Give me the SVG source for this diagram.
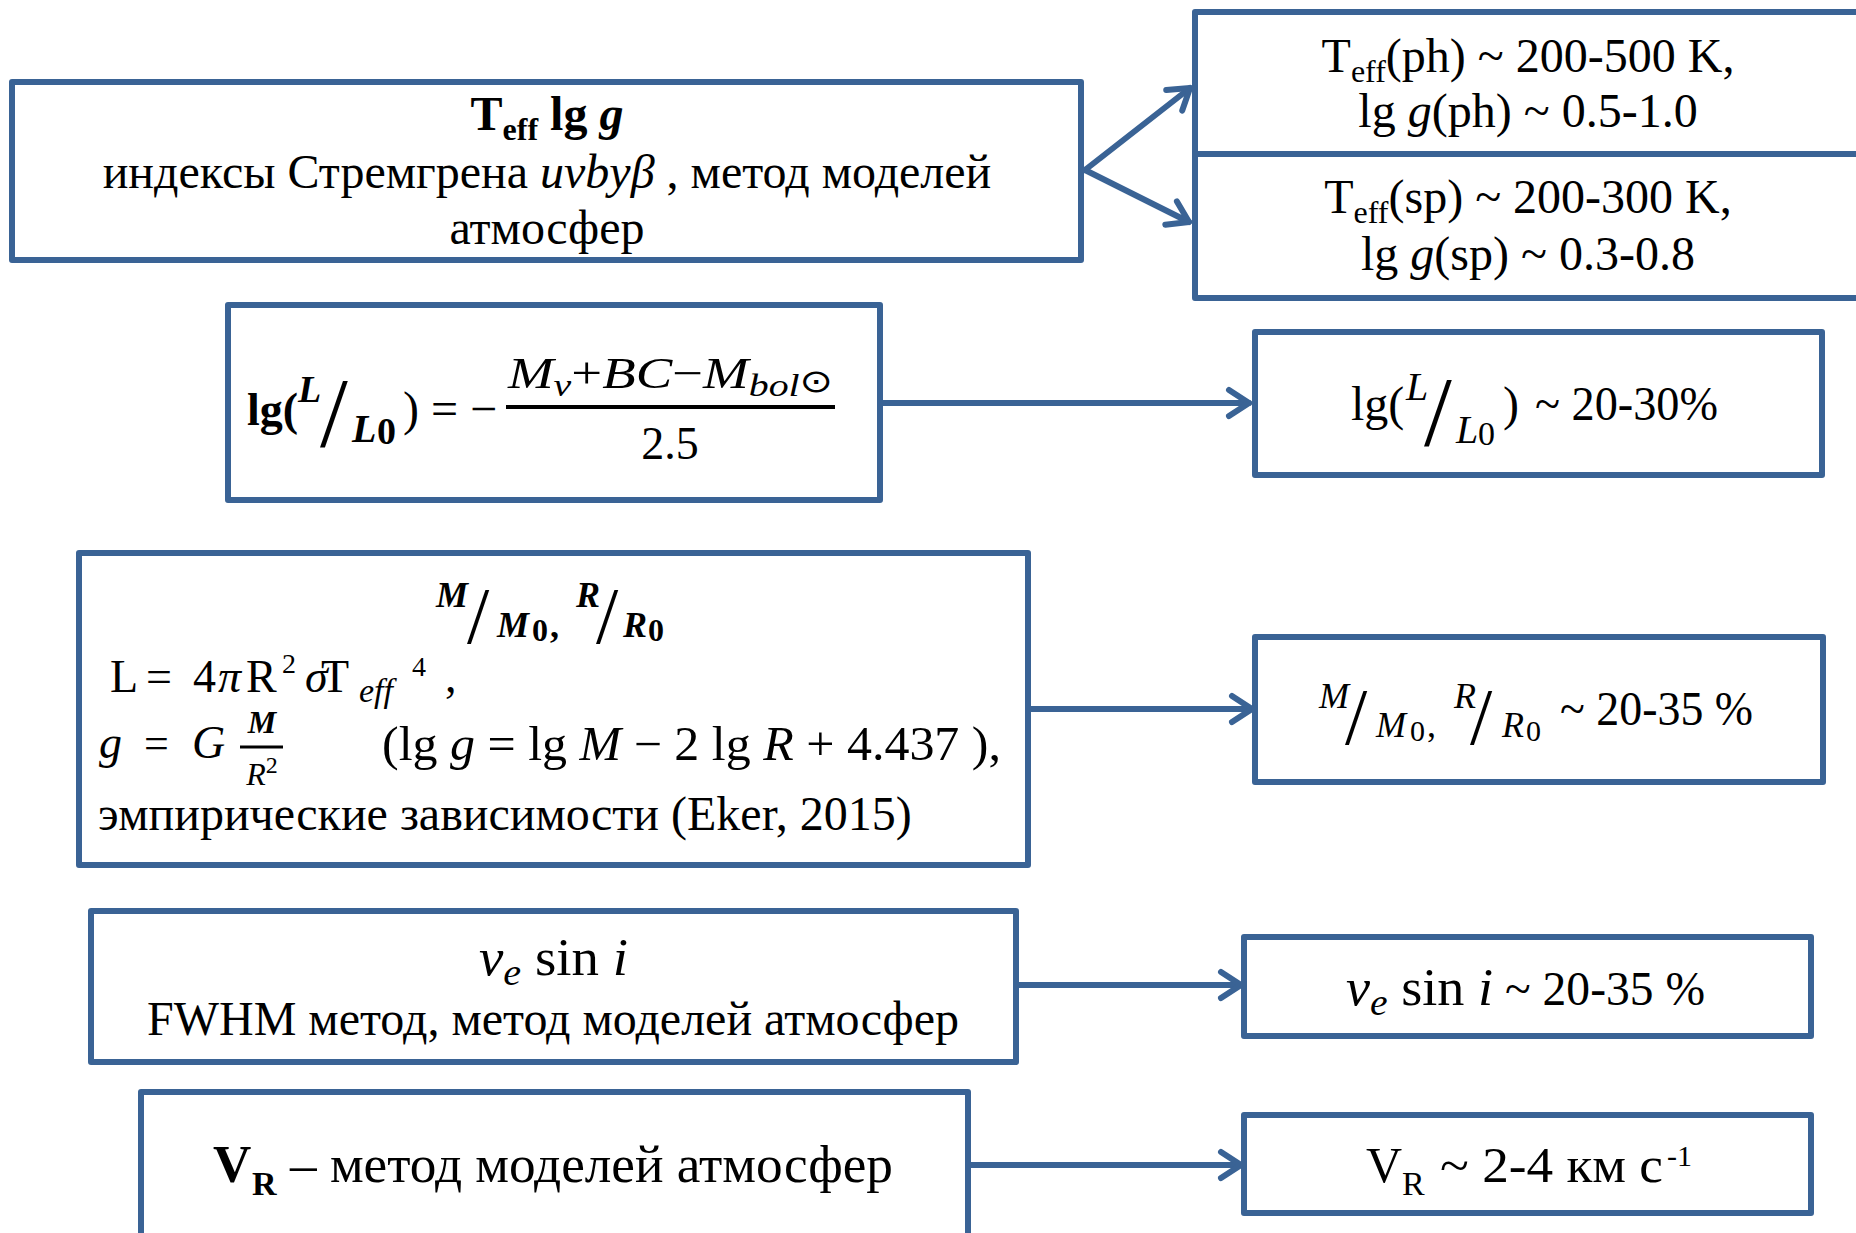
<svg xmlns="http://www.w3.org/2000/svg" width="1856" height="1233" viewBox="0 0 1856 1233">
<defs>
<style>
.box{fill:#ffffff;stroke:#3A6395;stroke-width:6;stroke-linejoin:round}
.conn{fill:none;stroke:#3A6395;stroke-width:6;stroke-linecap:round}
.t{font-family:"Liberation Serif","Times New Roman",serif;font-size:48px;fill:#000}
.m{font-family:"Liberation Serif","DejaVu Serif",serif;fill:#000}
.b{font-weight:bold}
.i{font-style:italic}
</style>
<marker id="arr" markerUnits="userSpaceOnUse" markerWidth="40" markerHeight="40" viewBox="-30 -20 40 40" refX="0" refY="0" orient="auto">
<path d="M-20,-13 L0,0 L-20,13" fill="none" stroke="#3A6395" stroke-width="6" stroke-linecap="round" stroke-linejoin="round"/>
</marker>
</defs>
<rect width="1856" height="1233" fill="#ffffff"/>

<g id="connectors">
<line class="conn" x1="1085" y1="170" x2="1190" y2="88" marker-end="url(#arr)"/>
<line class="conn" x1="1085" y1="170" x2="1189" y2="222" marker-end="url(#arr)"/>
<line class="conn" x1="880" y1="403" x2="1249" y2="403" marker-end="url(#arr)"/>
<line class="conn" x1="1028" y1="709" x2="1252" y2="709" marker-end="url(#arr)"/>
<line class="conn" x1="1016" y1="985" x2="1241" y2="985" marker-end="url(#arr)"/>
<line class="conn" x1="968" y1="1165" x2="1241" y2="1165" marker-end="url(#arr)"/>
</g>

<g id="node-teff-method">
<rect class="box" x="12" y="82" width="1069" height="178"/>
<text class="t b" x="547" y="130" text-anchor="middle">T<tspan font-size="32" dy="10">eff</tspan><tspan dy="-10"> lg </tspan><tspan class="i">g</tspan></text>
<text class="t" x="547" y="188" text-anchor="middle">индексы Стремгрена <tspan class="i">uvbyβ</tspan> , метод моделей</text>
<text class="t" x="547" y="244" text-anchor="middle">атмосфер</text>
</g>

<g id="node-teff-ph">
<rect class="box" x="1195" y="12" width="670" height="142"/>
<text class="t" x="1528" y="72" text-anchor="middle">T<tspan font-size="32" dy="10">eff</tspan><tspan dy="-10">(ph) ~ 200-500 K,</tspan></text>
<text class="t" x="1528" y="127" text-anchor="middle">lg <tspan class="i">g</tspan>(ph) ~ 0.5-1.0</text>
</g>

<g id="node-teff-sp">
<rect class="box" x="1195" y="154" width="670" height="144"/>
<text class="t" x="1528" y="213" text-anchor="middle">T<tspan font-size="32" dy="10">eff</tspan><tspan dy="-10">(sp) ~ 200-300 K,</tspan></text>
<text class="t" x="1528" y="270" text-anchor="middle">lg <tspan class="i">g</tspan>(sp) ~ 0.3-0.8</text>
</g>

<g id="node-lum-formula">
<rect class="box" x="228" y="305" width="652" height="195"/>
<text class="t b" x="247" y="425" style="font-size:46px">lg(</text>
<text class="m b i" x="298" y="402" font-size="38">L</text>
<text class="m" x="320" y="446" font-size="100">/</text>
<text class="m b i" x="352" y="442" font-size="40">L</text>
<text class="m b" x="377" y="444" font-size="38">0</text>
<text class="t" x="403" y="425">) = −</text>
<text class="m i" x="508" y="388" font-size="44" textLength="325" lengthAdjust="spacingAndGlyphs">M<tspan font-size="32" dy="8">v</tspan><tspan font-style="normal" dy="-8">+</tspan>BC<tspan font-style="normal">−</tspan>M<tspan font-size="32" dy="8">bol</tspan><tspan font-style="normal" font-size="32" font-family="DejaVu Sans" dy="-4">⊙</tspan></text>
<line x1="506" y1="407" x2="835" y2="407" stroke="#000" stroke-width="4"/>
<text class="m" x="670" y="459" font-size="46" text-anchor="middle">2.5</text>
</g>

<g id="node-lum-error">
<rect class="box" x="1255" y="332" width="567" height="143"/>
<text class="t" x="1351" y="420">lg(</text>
<text class="m i" x="1406" y="400" font-size="40">L</text>
<text class="m" x="1424" y="445" font-size="100">/</text>
<text class="m i" x="1456" y="443" font-size="40">L</text>
<text class="m" x="1478" y="445" font-size="34">0</text>
<text class="t" x="1503" y="420">)</text>
<text class="t" x="1535" y="420" textLength="183" lengthAdjust="spacingAndGlyphs">~ 20-30%</text>
</g>

<g id="node-mass-radius">
<rect class="box" x="79" y="553" width="949" height="312"/>
<text class="m b i" x="436" y="607" font-size="36">M</text>
<text class="m" x="467" y="643" font-size="80">/</text>
<text class="m b i" x="497" y="637" font-size="36">M</text>
<text class="m b" x="532" y="641" font-size="32">0</text>
<text class="m b" x="550" y="637" font-size="36">,</text>
<text class="m b i" x="576" y="607" font-size="36">R</text>
<text class="m" x="596" y="643" font-size="80">/</text>
<text class="m b i" x="623" y="637" font-size="36">R</text>
<text class="m b" x="648" y="641" font-size="32">0</text>

<text class="m" x="110" y="692" font-size="46">L</text>
<text class="m" x="146" y="692" font-size="46">=</text>
<text class="m" x="193" y="692" font-size="46">4</text>
<text class="m i" x="218" y="692" font-size="46">π</text>
<text class="m" x="246" y="692" font-size="46">R</text>
<text class="m" x="282" y="673" font-size="28">2</text>
<text class="m i" x="305" y="692" font-size="46">σ</text>
<text class="m" x="321" y="692" font-size="46">T</text>
<text class="m i" x="359" y="702" font-size="34">eff</text>
<text class="m" x="412" y="676" font-size="28">4</text>
<text class="m" x="445" y="692" font-size="46">,</text>

<text class="m i" x="99" y="758" font-size="46">g</text>
<text class="m" x="144" y="758" font-size="44">=</text>
<text class="m i" x="192" y="758" font-size="46">G</text>
<text class="m b i" x="262" y="733" font-size="32" text-anchor="middle">M</text>
<line x1="240" y1="747" x2="283" y2="747" stroke="#000" stroke-width="3"/>
<text class="m i" x="262" y="785" font-size="32" text-anchor="middle">R<tspan font-style="normal" font-size="24" dy="-12">2</tspan></text>
<text class="m" x="382" y="760" font-size="48" textLength="619" lengthAdjust="spacingAndGlyphs">(lg <tspan class="i">g</tspan> = lg <tspan class="i">M</tspan> − 2 lg <tspan class="i">R</tspan> + 4.437 ),</text>

<text class="t" x="98" y="830">эмпирические зависимости (Eker, 2015)</text>
</g>

<g id="node-mass-radius-error">
<rect class="box" x="1255" y="637" width="568" height="145"/>
<text class="m i" x="1319" y="708" font-size="36">M</text>
<text class="m" x="1345" y="744" font-size="80">/</text>
<text class="m i" x="1376" y="737" font-size="36">M</text>
<text class="m" x="1410" y="741" font-size="30">0</text>
<text class="m" x="1427" y="737" font-size="36">,</text>
<text class="m i" x="1454" y="708" font-size="36">R</text>
<text class="m" x="1470" y="744" font-size="80">/</text>
<text class="m i" x="1502" y="737" font-size="36">R</text>
<text class="m" x="1526" y="741" font-size="30">0</text>
<text class="t" x="1560" y="725" textLength="193" lengthAdjust="spacingAndGlyphs">~ 20-35 %</text>
</g>

<g id="node-vsini">
<rect class="box" x="91" y="911" width="925" height="151"/>
<text class="m" x="479" y="975" font-size="52" textLength="149" lengthAdjust="spacingAndGlyphs"><tspan class="i">v</tspan><tspan class="i" font-size="38" dy="10">e</tspan><tspan dy="-10"> sin </tspan><tspan class="i">i</tspan></text>
<text class="t" x="553" y="1035" text-anchor="middle">FWHM метод, метод моделей атмосфер</text>
</g>

<g id="node-vsini-error">
<rect class="box" x="1244" y="937" width="567" height="99"/>
<text class="m" x="1346" y="1005" font-size="52" textLength="147" lengthAdjust="spacingAndGlyphs"><tspan class="i">v</tspan><tspan class="i" font-size="38" dy="10">e</tspan><tspan dy="-10"> sin </tspan><tspan class="i">i</tspan></text>
<text class="t" x="1505" y="1005" textLength="200" lengthAdjust="spacingAndGlyphs">~ 20-35 %</text>
</g>

<g id="node-vr">
<rect class="box" x="141" y="1092" width="827" height="146"/>
<text class="t b" x="213" y="1182" style="font-size:53px">V</text>
<text class="t b" x="252" y="1195" style="font-size:34px">R</text>
<text class="t" x="290" y="1182" style="font-size:53px" textLength="603" lengthAdjust="spacingAndGlyphs">– метод моделей атмосфер</text>
</g>

<g id="node-vr-error">
<rect class="box" x="1244" y="1115" width="567" height="98"/>
<text class="t" x="1366" y="1182" style="font-size:50px">V</text>
<text class="t" x="1402" y="1195" style="font-size:34px">R</text>
<text class="t" x="1440" y="1182" style="font-size:50px" textLength="223" lengthAdjust="spacingAndGlyphs">~ 2-4 км с</text>
<text class="t" x="1667" y="1166" style="font-size:30px">-1</text>
</g>
</svg>
